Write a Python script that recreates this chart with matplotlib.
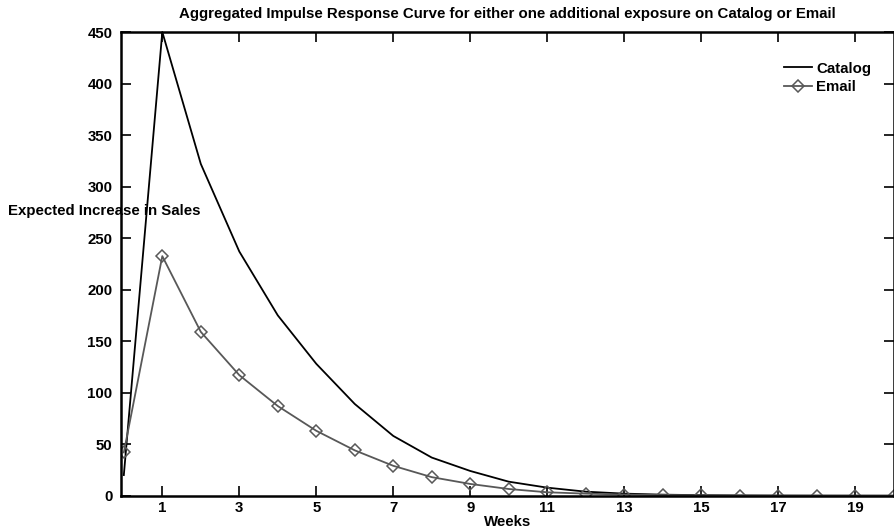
import matplotlib
matplotlib.use("Agg")
import matplotlib.pyplot as plt

plt.rcParams['font.family'] = ['Liberation Sans', 'DejaVu Sans']
plt.rcParams['font.weight'] = 'bold'

weeks = list(range(0, 21))
catalog = [20, 450, 322, 237, 175, 128, 89, 58, 37, 24, 13.6, 7.8, 3.9, 2.0, 1.0, 0.5, 0.25, 0.12, 0.06, 0.03, 0.0]
email = [42, 232.5, 159, 117, 87, 63, 44, 29, 18, 11.4, 6.5, 3.3, 2.0, 1.1, 0.6, 0.3, 0.15, 0.08, 0.04, 0.02, 0.0]
xticks = [1, 3, 5, 7, 9, 11, 13, 15, 17, 19]
yticks = [0, 50, 100, 150, 200, 250, 300, 350, 400, 450]

FS = 10.8

fig = plt.figure(figsize=(8.95, 5.31), dpi=100)
ax = fig.add_axes([0.1349, 0.0665, 0.8636, 0.8732])

ax.plot(weeks, catalog, color='black', lw=1.3, label='Catalog', clip_on=False, zorder=2)
ax.plot(weeks, email, color='#585858', lw=1.3, marker='D', markersize=5.8,
        markerfacecolor='none', markeredgecolor='#585858', markeredgewidth=1.1,
        label='Email', clip_on=True, zorder=2)

ax.set_xlim(-0.08, 20)
ax.set_ylim(0, 450)
ax.set_xticks(xticks)
ax.set_yticks(yticks)
ax.tick_params(direction='in', length=7, width=1.2, top=True, right=True,
               labelsize=FS)
ax.tick_params(axis='y', pad=6)
ax.tick_params(axis='x', pad=4)
for lab in ax.get_xticklabels() + ax.get_yticklabels():
    lab.set_fontweight('bold')
for s in ax.spines.values():
    s.set_linewidth(1.8)
    s.set_zorder(3)

ax.set_title('Aggregated Impulse Response Curve for either one additional exposure on Catalog or Email',
             fontsize=FS, fontweight='bold', pad=10)
ax.set_xlabel('Weeks', fontsize=FS, fontweight='bold', labelpad=0)
ax.set_ylabel('Expected Increase in Sales', fontsize=FS, fontweight='bold',
              rotation=0, ha='center', va='center')
ax.yaxis.set_label_coords(-0.021, 0.615)

leg = ax.legend(loc='upper right', bbox_to_anchor=(0.988, 0.965), frameon=False,
                handlelength=1.9, handletextpad=0.25, labelspacing=0.3,
                prop={'weight': 'bold', 'size': FS})

fig.savefig('out.png', dpi=100)
